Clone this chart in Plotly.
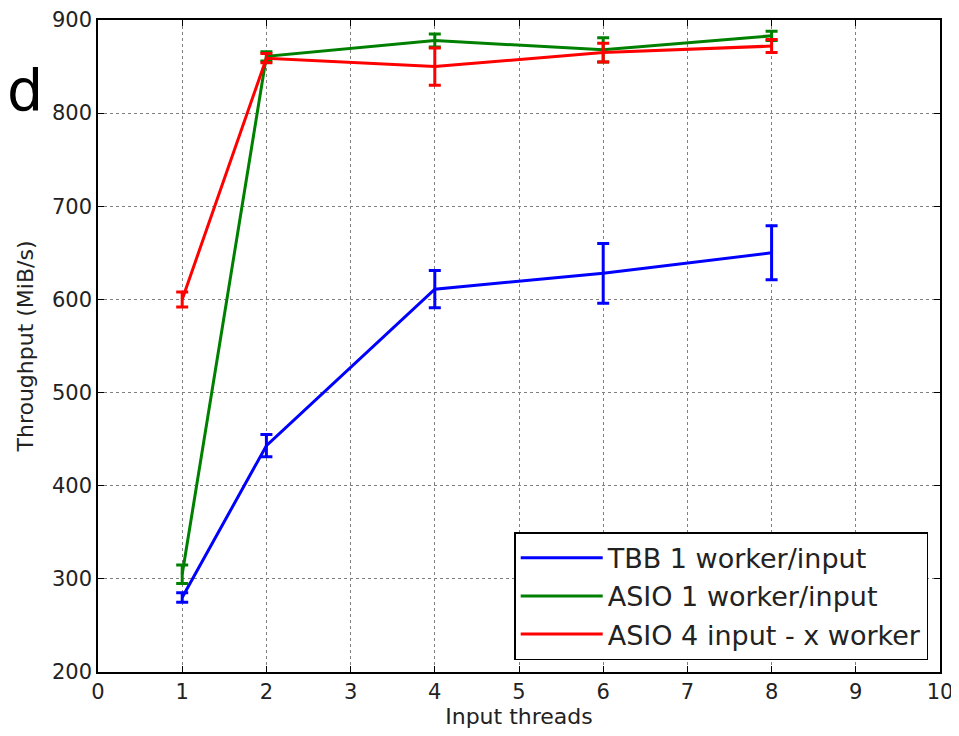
import plotly.graph_objects as go

threads = [1, 2, 4, 6, 8]

tbb_vals = [280, 443, 611, 628, 650]
tbb_err = [5, 12, 20, 32, 29]

asio1_vals = [305, 861, 878, 868, 883]
asio1_err = [10, 5, 7, 13, 5]

asio4_vals = [600, 859, 850, 865, 872]
asio4_err = [8, 5, 20, 10, 7]

series_names = ["TBB 1 worker/input", "ASIO 1 worker/input", "ASIO 4 input - x worker"]
series_colors = ["#0000ff", "#008000", "#ff0000"]

x_ticks = list(range(0, 11))
y_ticks = list(range(200, 1000, 100))

FONT = "DejaVu Sans"

fig = go.Figure()
for name, color, vals, errs in zip(series_names, series_colors,
                                   [tbb_vals, asio1_vals, asio4_vals],
                                   [tbb_err, asio1_err, asio4_err]):
    fig.add_trace(go.Scatter(
        x=threads, y=vals, name=name, mode="lines",
        line=dict(color=color, width=3),
        error_y=dict(type="data", array=errs, visible=True,
                     color=color, thickness=3, width=6),
    ))

axis_common = dict(
    showline=True, linecolor="black", linewidth=1.5, mirror="ticks",
    ticks="inside", ticklen=6, tickcolor="black",
    showgrid=True, gridcolor="#808080", griddash="dot", gridwidth=1,
    zeroline=False, automargin=False,
    tickfont=dict(family=FONT, size=21, color="#222222"),
)

fig.update_xaxes(range=[0, 10], tickvals=x_ticks,
                 title=dict(text="Input threads", font=dict(family=FONT, size=22, color="#222222"), standoff=4),
                 **axis_common)
fig.update_yaxes(range=[200, 900], tickvals=y_ticks,
                 title=dict(text="Throughput (MiB/s)", font=dict(family=FONT, size=22, color="#222222"), standoff=12),
                 **axis_common)

fig.add_annotation(text="d", xref="paper", yref="paper",
                   x=-0.111, y=0.893, xanchor="left", yanchor="middle",
                   showarrow=False, font=dict(family=FONT, size=57, color="black"))

fig.update_layout(
    width=959, height=736,
    margin=dict(l=90, r=27, t=12, b=72, autoexpand=False),
    plot_bgcolor="white", paper_bgcolor="white",
    font=dict(family=FONT, color="black"),
    legend=dict(x=0.986, y=0.018, xanchor="right", yanchor="bottom",
                bordercolor="black", borderwidth=1.5, bgcolor="white",
                font=dict(family=FONT, size=27, color="#222222"),
                itemwidth=82, tracegroupgap=0),
    showlegend=True,
)

fig.write_html("out.html")
